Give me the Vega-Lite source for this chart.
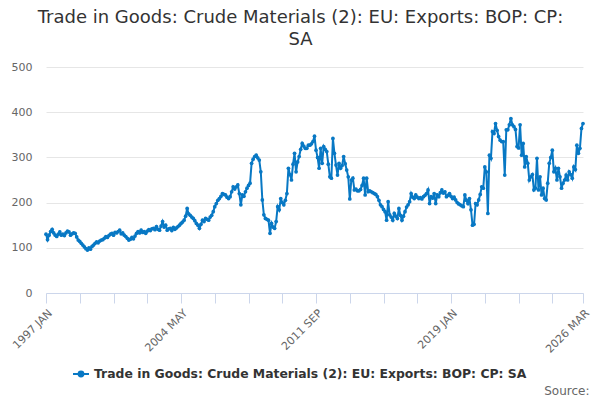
{
  "$schema": "https://vega.github.io/schema/vega-lite/v6.json",
  "autosize": {"type": "none"},
  "width": 537,
  "height": 226,
  "padding": {"left": 46, "top": 67, "right": 17, "bottom": 107},
  "title": {
    "text": ["Trade in Goods: Crude Materials (2): EU: Exports: BOP: CP:", "SA"],
    "anchor": "middle",
    "frame": "group",
    "dx": -14,
    "offset": 12,
    "font": "DejaVu Sans",
    "fontSize": 18,
    "fontWeight": "normal",
    "lineHeight": 22,
    "color": "#333333"
  },
  "data": {
    "values": [
      {"date": "1997 JAN", "value": 130}, {"date": "1997 FEB", "value": 118}, {"date": "1997 MAR", "value": 128}, {"date": "1997 APR", "value": 136},
      {"date": "1997 MAY", "value": 141}, {"date": "1997 JUN", "value": 133}, {"date": "1997 JUL", "value": 128}, {"date": "1997 AUG", "value": 125},
      {"date": "1997 SEP", "value": 130}, {"date": "1997 OCT", "value": 135}, {"date": "1997 NOV", "value": 128}, {"date": "1997 DEC", "value": 130},
      {"date": "1998 JAN", "value": 127}, {"date": "1998 FEB", "value": 133}, {"date": "1998 MAR", "value": 137}, {"date": "1998 APR", "value": 135},
      {"date": "1998 MAY", "value": 128}, {"date": "1998 JUN", "value": 131}, {"date": "1998 JUL", "value": 133}, {"date": "1998 AUG", "value": 132},
      {"date": "1998 SEP", "value": 124}, {"date": "1998 OCT", "value": 117}, {"date": "1998 NOV", "value": 114}, {"date": "1998 DEC", "value": 110},
      {"date": "1999 JAN", "value": 106}, {"date": "1999 FEB", "value": 102}, {"date": "1999 MAR", "value": 98}, {"date": "1999 APR", "value": 95},
      {"date": "1999 MAY", "value": 100}, {"date": "1999 JUN", "value": 97}, {"date": "1999 JUL", "value": 103}, {"date": "1999 AUG", "value": 106},
      {"date": "1999 SEP", "value": 110}, {"date": "1999 OCT", "value": 113}, {"date": "1999 NOV", "value": 111}, {"date": "1999 DEC", "value": 115},
      {"date": "2000 JAN", "value": 117}, {"date": "2000 FEB", "value": 118}, {"date": "2000 MAR", "value": 121}, {"date": "2000 APR", "value": 125},
      {"date": "2000 MAY", "value": 123}, {"date": "2000 JUN", "value": 127}, {"date": "2000 JUL", "value": 130}, {"date": "2000 AUG", "value": 132},
      {"date": "2000 SEP", "value": 128}, {"date": "2000 OCT", "value": 134}, {"date": "2000 NOV", "value": 133}, {"date": "2000 DEC", "value": 136},
      {"date": "2001 JAN", "value": 139}, {"date": "2001 FEB", "value": 131}, {"date": "2001 MAR", "value": 133}, {"date": "2001 APR", "value": 128},
      {"date": "2001 MAY", "value": 125}, {"date": "2001 JUN", "value": 121}, {"date": "2001 JUL", "value": 117}, {"date": "2001 AUG", "value": 119},
      {"date": "2001 SEP", "value": 123}, {"date": "2001 OCT", "value": 120}, {"date": "2001 NOV", "value": 126}, {"date": "2001 DEC", "value": 132},
      {"date": "2002 JAN", "value": 136}, {"date": "2002 FEB", "value": 133}, {"date": "2002 MAR", "value": 139}, {"date": "2002 APR", "value": 134},
      {"date": "2002 MAY", "value": 136}, {"date": "2002 JUN", "value": 132}, {"date": "2002 JUL", "value": 137}, {"date": "2002 AUG", "value": 140},
      {"date": "2002 SEP", "value": 138}, {"date": "2002 OCT", "value": 142}, {"date": "2002 NOV", "value": 143}, {"date": "2002 DEC", "value": 140},
      {"date": "2003 JAN", "value": 147}, {"date": "2003 FEB", "value": 141}, {"date": "2003 MAR", "value": 139}, {"date": "2003 APR", "value": 148},
      {"date": "2003 MAY", "value": 158}, {"date": "2003 JUN", "value": 146}, {"date": "2003 JUL", "value": 150}, {"date": "2003 AUG", "value": 139},
      {"date": "2003 SEP", "value": 142}, {"date": "2003 OCT", "value": 143}, {"date": "2003 NOV", "value": 138}, {"date": "2003 DEC", "value": 145},
      {"date": "2004 JAN", "value": 141}, {"date": "2004 FEB", "value": 144}, {"date": "2004 MAR", "value": 147}, {"date": "2004 APR", "value": 150},
      {"date": "2004 MAY", "value": 154}, {"date": "2004 JUN", "value": 157}, {"date": "2004 JUL", "value": 161}, {"date": "2004 AUG", "value": 170},
      {"date": "2004 SEP", "value": 187}, {"date": "2004 OCT", "value": 175}, {"date": "2004 NOV", "value": 172}, {"date": "2004 DEC", "value": 168},
      {"date": "2005 JAN", "value": 165}, {"date": "2005 FEB", "value": 160}, {"date": "2005 MAR", "value": 154}, {"date": "2005 APR", "value": 150},
      {"date": "2005 MAY", "value": 143}, {"date": "2005 JUN", "value": 152}, {"date": "2005 JUL", "value": 161}, {"date": "2005 AUG", "value": 158},
      {"date": "2005 SEP", "value": 165}, {"date": "2005 OCT", "value": 163}, {"date": "2005 NOV", "value": 161}, {"date": "2005 DEC", "value": 168},
      {"date": "2006 JAN", "value": 172}, {"date": "2006 FEB", "value": 180}, {"date": "2006 MAR", "value": 191}, {"date": "2006 APR", "value": 198},
      {"date": "2006 MAY", "value": 205}, {"date": "2006 JUN", "value": 209}, {"date": "2006 JUL", "value": 214}, {"date": "2006 AUG", "value": 220},
      {"date": "2006 SEP", "value": 218}, {"date": "2006 OCT", "value": 217}, {"date": "2006 NOV", "value": 212}, {"date": "2006 DEC", "value": 209},
      {"date": "2007 JAN", "value": 213}, {"date": "2007 FEB", "value": 224}, {"date": "2007 MAR", "value": 235}, {"date": "2007 APR", "value": 230},
      {"date": "2007 MAY", "value": 235}, {"date": "2007 JUN", "value": 239}, {"date": "2007 JUL", "value": 220}, {"date": "2007 AUG", "value": 195},
      {"date": "2007 SEP", "value": 217}, {"date": "2007 OCT", "value": 214}, {"date": "2007 NOV", "value": 224}, {"date": "2007 DEC", "value": 232},
      {"date": "2008 JAN", "value": 238}, {"date": "2008 FEB", "value": 243}, {"date": "2008 MAR", "value": 287}, {"date": "2008 APR", "value": 296},
      {"date": "2008 MAY", "value": 302}, {"date": "2008 JUN", "value": 305}, {"date": "2008 JUL", "value": 299}, {"date": "2008 AUG", "value": 294},
      {"date": "2008 SEP", "value": 268}, {"date": "2008 OCT", "value": 206}, {"date": "2008 NOV", "value": 173}, {"date": "2008 DEC", "value": 165},
      {"date": "2009 JAN", "value": 163}, {"date": "2009 FEB", "value": 161}, {"date": "2009 MAR", "value": 132}, {"date": "2009 APR", "value": 154},
      {"date": "2009 MAY", "value": 146}, {"date": "2009 JUN", "value": 143}, {"date": "2009 JUL", "value": 158}, {"date": "2009 AUG", "value": 191},
      {"date": "2009 SEP", "value": 184}, {"date": "2009 OCT", "value": 209}, {"date": "2009 NOV", "value": 200}, {"date": "2009 DEC", "value": 195},
      {"date": "2010 JAN", "value": 205}, {"date": "2010 FEB", "value": 220}, {"date": "2010 MAR", "value": 276}, {"date": "2010 APR", "value": 262},
      {"date": "2010 MAY", "value": 250}, {"date": "2010 JUN", "value": 285}, {"date": "2010 JUL", "value": 309}, {"date": "2010 AUG", "value": 268},
      {"date": "2010 SEP", "value": 290}, {"date": "2010 OCT", "value": 302}, {"date": "2010 NOV", "value": 318}, {"date": "2010 DEC", "value": 331},
      {"date": "2011 JAN", "value": 325}, {"date": "2011 FEB", "value": 320}, {"date": "2011 MAR", "value": 320}, {"date": "2011 APR", "value": 327},
      {"date": "2011 MAY", "value": 327}, {"date": "2011 JUN", "value": 330}, {"date": "2011 JUL", "value": 335}, {"date": "2011 AUG", "value": 347},
      {"date": "2011 SEP", "value": 316}, {"date": "2011 OCT", "value": 300}, {"date": "2011 NOV", "value": 276}, {"date": "2011 DEC", "value": 320},
      {"date": "2012 JAN", "value": 287}, {"date": "2012 FEB", "value": 324}, {"date": "2012 MAR", "value": 318}, {"date": "2012 APR", "value": 313},
      {"date": "2012 MAY", "value": 285}, {"date": "2012 JUN", "value": 257}, {"date": "2012 JUL", "value": 254}, {"date": "2012 AUG", "value": 342},
      {"date": "2012 SEP", "value": 309}, {"date": "2012 OCT", "value": 283}, {"date": "2012 NOV", "value": 261}, {"date": "2012 DEC", "value": 287},
      {"date": "2013 JAN", "value": 276}, {"date": "2013 FEB", "value": 282}, {"date": "2013 MAR", "value": 302}, {"date": "2013 APR", "value": 286},
      {"date": "2013 MAY", "value": 272}, {"date": "2013 JUN", "value": 257}, {"date": "2013 JUL", "value": 208}, {"date": "2013 AUG", "value": 250},
      {"date": "2013 SEP", "value": 254}, {"date": "2013 OCT", "value": 228}, {"date": "2013 NOV", "value": 230}, {"date": "2013 DEC", "value": 226},
      {"date": "2014 JAN", "value": 226}, {"date": "2014 FEB", "value": 229}, {"date": "2014 MAR", "value": 238}, {"date": "2014 APR", "value": 254},
      {"date": "2014 MAY", "value": 217}, {"date": "2014 JUN", "value": 254}, {"date": "2014 JUL", "value": 224}, {"date": "2014 AUG", "value": 226},
      {"date": "2014 SEP", "value": 224}, {"date": "2014 OCT", "value": 222}, {"date": "2014 NOV", "value": 220}, {"date": "2014 DEC", "value": 218},
      {"date": "2015 JAN", "value": 213}, {"date": "2015 FEB", "value": 205}, {"date": "2015 MAR", "value": 195}, {"date": "2015 APR", "value": 191},
      {"date": "2015 MAY", "value": 185}, {"date": "2015 JUN", "value": 180}, {"date": "2015 JUL", "value": 161}, {"date": "2015 AUG", "value": 202},
      {"date": "2015 SEP", "value": 173}, {"date": "2015 OCT", "value": 168}, {"date": "2015 NOV", "value": 161}, {"date": "2015 DEC", "value": 176},
      {"date": "2016 JAN", "value": 170}, {"date": "2016 FEB", "value": 165}, {"date": "2016 MAR", "value": 187}, {"date": "2016 APR", "value": 172},
      {"date": "2016 MAY", "value": 161}, {"date": "2016 JUN", "value": 170}, {"date": "2016 JUL", "value": 180}, {"date": "2016 AUG", "value": 190},
      {"date": "2016 SEP", "value": 195}, {"date": "2016 OCT", "value": 202}, {"date": "2016 NOV", "value": 220}, {"date": "2016 DEC", "value": 212},
      {"date": "2017 JAN", "value": 209}, {"date": "2017 FEB", "value": 217}, {"date": "2017 MAR", "value": 212}, {"date": "2017 APR", "value": 209},
      {"date": "2017 MAY", "value": 211}, {"date": "2017 JUN", "value": 208}, {"date": "2017 JUL", "value": 213}, {"date": "2017 AUG", "value": 216},
      {"date": "2017 SEP", "value": 220}, {"date": "2017 OCT", "value": 228}, {"date": "2017 NOV", "value": 198}, {"date": "2017 DEC", "value": 213},
      {"date": "2018 JAN", "value": 210}, {"date": "2018 FEB", "value": 220}, {"date": "2018 MAR", "value": 198}, {"date": "2018 APR", "value": 217},
      {"date": "2018 MAY", "value": 213}, {"date": "2018 JUN", "value": 222}, {"date": "2018 JUL", "value": 228}, {"date": "2018 AUG", "value": 221},
      {"date": "2018 SEP", "value": 224}, {"date": "2018 OCT", "value": 213}, {"date": "2018 NOV", "value": 216}, {"date": "2018 DEC", "value": 220},
      {"date": "2019 JAN", "value": 214}, {"date": "2019 FEB", "value": 209}, {"date": "2019 MAR", "value": 212}, {"date": "2019 APR", "value": 206},
      {"date": "2019 MAY", "value": 200}, {"date": "2019 JUN", "value": 197}, {"date": "2019 JUL", "value": 195}, {"date": "2019 AUG", "value": 193},
      {"date": "2019 SEP", "value": 191}, {"date": "2019 OCT", "value": 217}, {"date": "2019 NOV", "value": 205}, {"date": "2019 DEC", "value": 198},
      {"date": "2020 JAN", "value": 209}, {"date": "2020 FEB", "value": 184}, {"date": "2020 MAR", "value": 150}, {"date": "2020 APR", "value": 152},
      {"date": "2020 MAY", "value": 198}, {"date": "2020 JUN", "value": 195}, {"date": "2020 JUL", "value": 206}, {"date": "2020 AUG", "value": 218},
      {"date": "2020 SEP", "value": 235}, {"date": "2020 OCT", "value": 232}, {"date": "2020 NOV", "value": 279}, {"date": "2020 DEC", "value": 268},
      {"date": "2021 JAN", "value": 176}, {"date": "2021 FEB", "value": 305}, {"date": "2021 MAR", "value": 298}, {"date": "2021 APR", "value": 357},
      {"date": "2021 MAY", "value": 353}, {"date": "2021 JUN", "value": 375}, {"date": "2021 JUL", "value": 360}, {"date": "2021 AUG", "value": 346},
      {"date": "2021 SEP", "value": 338}, {"date": "2021 OCT", "value": 335}, {"date": "2021 NOV", "value": 335}, {"date": "2021 DEC", "value": 261},
      {"date": "2022 JAN", "value": 361}, {"date": "2022 FEB", "value": 361}, {"date": "2022 MAR", "value": 372}, {"date": "2022 APR", "value": 386},
      {"date": "2022 MAY", "value": 372}, {"date": "2022 JUN", "value": 368}, {"date": "2022 JUL", "value": 362}, {"date": "2022 AUG", "value": 324},
      {"date": "2022 SEP", "value": 321}, {"date": "2022 OCT", "value": 372}, {"date": "2022 NOV", "value": 305}, {"date": "2022 DEC", "value": 331},
      {"date": "2023 JAN", "value": 279}, {"date": "2023 FEB", "value": 302}, {"date": "2023 MAR", "value": 287}, {"date": "2023 APR", "value": 250},
      {"date": "2023 MAY", "value": 257}, {"date": "2023 JUN", "value": 262}, {"date": "2023 JUL", "value": 228}, {"date": "2023 AUG", "value": 232},
      {"date": "2023 SEP", "value": 298}, {"date": "2023 OCT", "value": 228}, {"date": "2023 NOV", "value": 257}, {"date": "2023 DEC", "value": 217},
      {"date": "2024 JAN", "value": 232}, {"date": "2024 FEB", "value": 209}, {"date": "2024 MAR", "value": 206}, {"date": "2024 APR", "value": 243},
      {"date": "2024 MAY", "value": 287}, {"date": "2024 JUN", "value": 300}, {"date": "2024 JUL", "value": 316}, {"date": "2024 AUG", "value": 268},
      {"date": "2024 SEP", "value": 276}, {"date": "2024 OCT", "value": 250}, {"date": "2024 NOV", "value": 276}, {"date": "2024 DEC", "value": 257},
      {"date": "2025 JAN", "value": 232}, {"date": "2025 FEB", "value": 243}, {"date": "2025 MAR", "value": 250}, {"date": "2025 APR", "value": 261},
      {"date": "2025 MAY", "value": 250}, {"date": "2025 JUN", "value": 268}, {"date": "2025 JUL", "value": 262}, {"date": "2025 AUG", "value": 254},
      {"date": "2025 SEP", "value": 279}, {"date": "2025 OCT", "value": 273}, {"date": "2025 NOV", "value": 327}, {"date": "2025 DEC", "value": 309},
      {"date": "2026 JAN", "value": 320}, {"date": "2026 FEB", "value": 364}, {"date": "2026 MAR", "value": 375}
    ]
  },
  "mark": {
    "type": "line",
    "strokeWidth": 2,
    "point": {"filled": true, "size": 14}
  },
  "encoding": {
    "x": {
      "field": "date",
      "type": "ordinal",
      "sort": null,
      "scale": {"type": "point", "padding": 0},
      "axis": {
        "values": ["1997 JAN", "1998 NOV", "2000 SEP", "2002 JUL", "2004 MAY", "2006 MAR", "2008 JAN", "2009 NOV", "2011 SEP", "2013 JUL", "2015 MAY", "2017 MAR", "2019 JAN", "2020 NOV", "2022 SEP", "2024 JUL", "2026 MAR"],
        "labelExpr": "indexof(['1997 JAN', '2004 MAY', '2011 SEP', '2019 JAN', '2026 MAR'], datum.label) >= 0 ? datum.label : ''",
        "labelAngle": -45,
        "labelFont": "DejaVu Sans",
        "labelFontSize": 11,
        "labelColor": "#666666",
        "labelPadding": 4,
        "tickSize": 10,
        "tickColor": "#ccd6eb",
        "domainColor": "#ccd6eb",
        "grid": false,
        "title": "Source:",
        "titleFont": "DejaVu Sans",
        "titleFontSize": 12,
        "titleFontWeight": "normal",
        "titleColor": "#666666",
        "titleAnchor": "end",
        "titleAlign": "right",
        "titleBaseline": "alphabetic",
        "titleX": 543,
        "titleY": 101
      }
    },
    "y": {
      "field": "value",
      "type": "quantitative",
      "scale": {"domain": [0, 500], "nice": false},
      "axis": {
        "values": [0, 100, 200, 300, 400, 500],
        "title": null,
        "domain": false,
        "ticks": false,
        "gridColor": "#e6e6e6",
        "labelFont": "DejaVu Sans",
        "labelFontSize": 11,
        "labelColor": "#666666",
        "labelPadding": 14
      }
    },
    "color": {
      "datum": "Trade in Goods: Crude Materials (2): EU: Exports: BOP: CP: SA",
      "scale": {"range": ["#0878c4"]},
      "legend": {
        "title": null,
        "orient": "none",
        "legendX": 26,
        "legendY": 298,
        "symbolType": "M-1,0H1M0.3,0A0.3,0.3 0 1,1 -0.3,0A0.3,0.3 0 1,1 0.3,0Z",
        "symbolSize": 256,
        "symbolStrokeWidth": 2,
        "symbolFillColor": "#0878c4",
        "labelFont": "DejaVu Sans",
        "labelFontSize": 12.4,
        "labelFontWeight": "bold",
        "labelColor": "#333333",
        "labelLimit": 600
      }
    }
  },
  "config": {
    "view": {"stroke": null}
  }
}
